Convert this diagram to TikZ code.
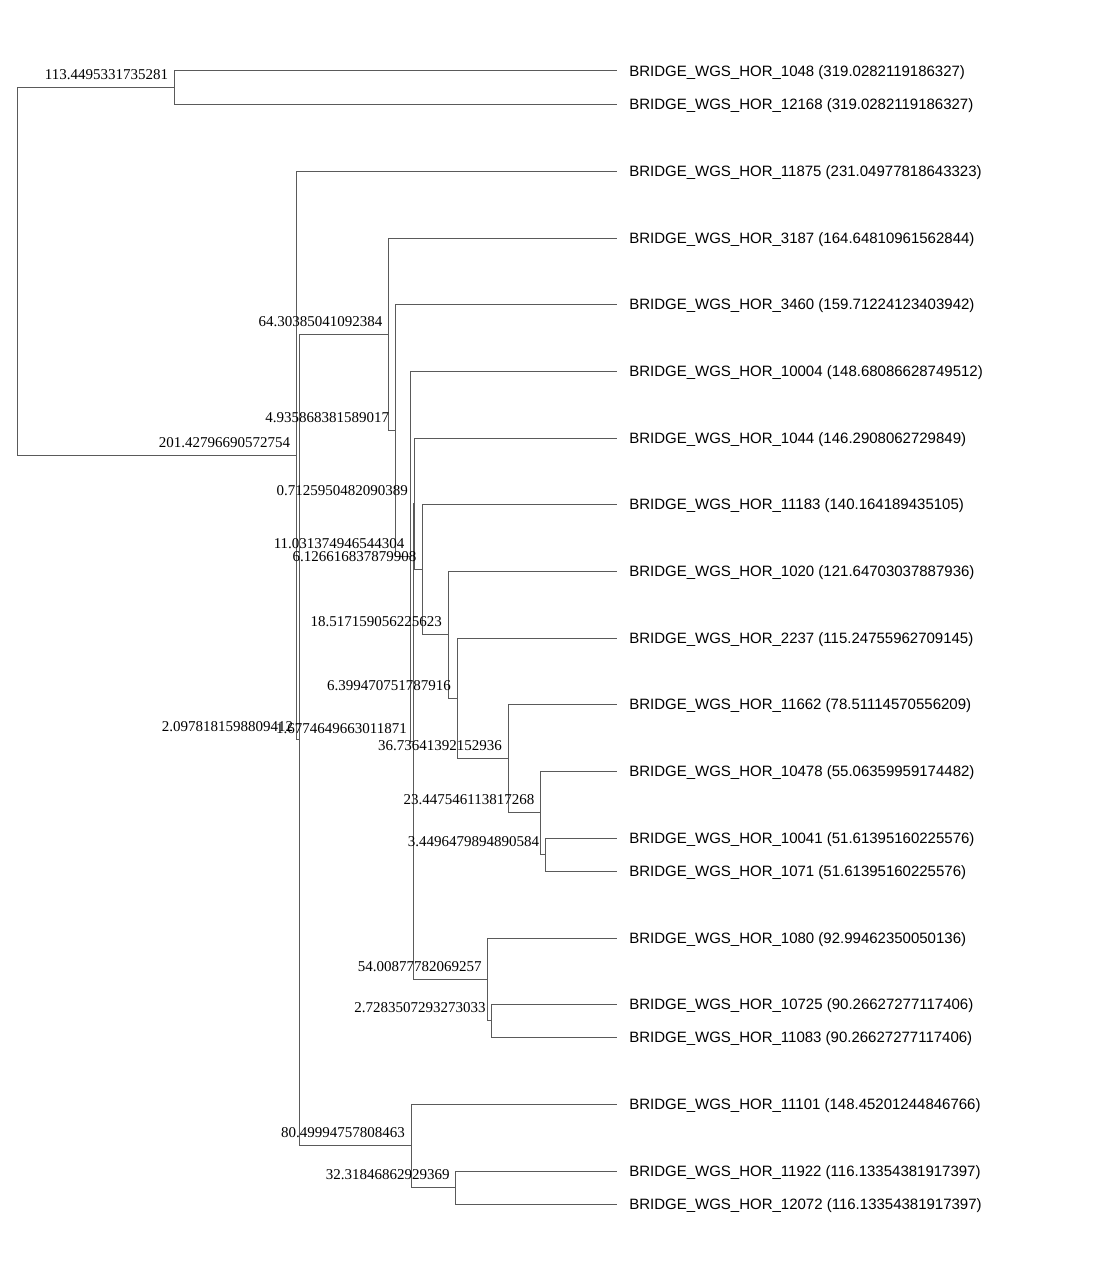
\documentclass[tikz,border=0pt]{standalone}
\usepackage{fontspec}
\setmainfont{Liberation Serif}
\newfontfamily\leaffont{Liberation Sans}
\definecolor{linecol}{RGB}{90,90,90}
\begin{document}
\begin{tikzpicture}[x=0.75pt,y=-0.75pt,
  edge/.style={draw=linecol, line width=0.75pt},
  leafedge/.style={edge, shorten >=9pt},
  leaf/.style={anchor=west, inner sep=0pt, text height=11.2pt, text depth=2.4pt, font=\leaffont\fontsize{11.25}{13}\selectfont},
  blab/.style={anchor=base east, inner sep=0pt, font=\fontsize{11.25}{13}\selectfont},
]
\useasboundingbox (0,0) rectangle (1106,1263);
% internal nodes
\coordinate (root) at (17,271.5);
\coordinate (A) at (174.4,87.5);
\coordinate (B) at (296.45,455.4);
\coordinate (C) at (299.36,739.9);
\coordinate (D) at (388.57,334);
\coordinate (E) at (395.42,430.1);
\coordinate (F) at (410.72,556.2);
\coordinate (G) at (413.05,741.4);
\coordinate (H) at (414.04,503.6);
\coordinate (I) at (422.54,569.3);
\coordinate (J) at (448.23,634.6);
\coordinate (K) at (457.11,698.2);
\coordinate (L) at (508.08,758.4);
\coordinate (M) at (540.61,812.75);
\coordinate (N) at (545.40,854.5);
\coordinate (P) at (487.98,979.25);
\coordinate (Q) at (491.77,1020.5);
\coordinate (R) at (411.04,1145.75);
\coordinate (S) at (455.88,1187.5);
% leaves
\node[leaf] (l1048) at (629,71) {BRIDGE\_WGS\_HOR\_1048 (319.0282119186327)};
\node[leaf] (l12168) at (629,104) {BRIDGE\_WGS\_HOR\_12168 (319.0282119186327)};
\node[leaf] (l11875) at (629,171) {BRIDGE\_WGS\_HOR\_11875 (231.04977818643323)};
\node[leaf] (l3187) at (629,238) {BRIDGE\_WGS\_HOR\_3187 (164.64810961562844)};
\node[leaf] (l3460) at (629,304) {BRIDGE\_WGS\_HOR\_3460 (159.71224123403942)};
\node[leaf] (l10004) at (629,371) {BRIDGE\_WGS\_HOR\_10004 (148.68086628749512)};
\node[leaf] (l1044) at (629,438) {BRIDGE\_WGS\_HOR\_1044 (146.2908062729849)};
\node[leaf] (l11183) at (629,504) {BRIDGE\_WGS\_HOR\_11183 (140.164189435105)};
\node[leaf] (l1020) at (629,571) {BRIDGE\_WGS\_HOR\_1020 (121.64703037887936)};
\node[leaf] (l2237) at (629,638) {BRIDGE\_WGS\_HOR\_2237 (115.24755962709145)};
\node[leaf] (l11662) at (629,704) {BRIDGE\_WGS\_HOR\_11662 (78.51114570556209)};
\node[leaf] (l10478) at (629,771) {BRIDGE\_WGS\_HOR\_10478 (55.06359959174482)};
\node[leaf] (l10041) at (629,838) {BRIDGE\_WGS\_HOR\_10041 (51.61395160225576)};
\node[leaf] (l1071) at (629,871) {BRIDGE\_WGS\_HOR\_1071 (51.61395160225576)};
\node[leaf] (l1080) at (629,938) {BRIDGE\_WGS\_HOR\_1080 (92.99462350050136)};
\node[leaf] (l10725) at (629,1004) {BRIDGE\_WGS\_HOR\_10725 (90.26627277117406)};
\node[leaf] (l11083) at (629,1037) {BRIDGE\_WGS\_HOR\_11083 (90.26627277117406)};
\node[leaf] (l11101) at (629,1104) {BRIDGE\_WGS\_HOR\_11101 (148.45201244846766)};
\node[leaf] (l11922) at (629,1171) {BRIDGE\_WGS\_HOR\_11922 (116.13354381917397)};
\node[leaf] (l12072) at (629,1204) {BRIDGE\_WGS\_HOR\_12072 (116.13354381917397)};
% internal edges
\draw[edge] (root) |- (A);
\draw[edge] (root) |- (B);
\draw[edge] (B) |- (C);
\draw[edge] (C) |- (D);
\draw[edge] (C) |- (R);
\draw[edge] (D) |- (E);
\draw[edge] (E) |- (F);
\draw[edge] (F) |- (G);
\draw[edge] (G) |- (H);
\draw[edge] (G) |- (P);
\draw[edge] (H) |- (I);
\draw[edge] (I) |- (J);
\draw[edge] (J) |- (K);
\draw[edge] (K) |- (L);
\draw[edge] (L) |- (M);
\draw[edge] (M) |- (N);
\draw[edge] (P) |- (Q);
\draw[edge] (R) |- (S);
% leaf edges
\draw[leafedge] (A) |- (l1048.west);
\draw[leafedge] (A) |- (l12168.west);
\draw[leafedge] (B) |- (l11875.west);
\draw[leafedge] (D) |- (l3187.west);
\draw[leafedge] (E) |- (l3460.west);
\draw[leafedge] (F) |- (l10004.west);
\draw[leafedge] (H) |- (l1044.west);
\draw[leafedge] (I) |- (l11183.west);
\draw[leafedge] (J) |- (l1020.west);
\draw[leafedge] (K) |- (l2237.west);
\draw[leafedge] (L) |- (l11662.west);
\draw[leafedge] (M) |- (l10478.west);
\draw[leafedge] (N) |- (l10041.west);
\draw[leafedge] (N) |- (l1071.west);
\draw[leafedge] (P) |- (l1080.west);
\draw[leafedge] (Q) |- (l10725.west);
\draw[leafedge] (Q) |- (l11083.west);
\draw[leafedge] (R) |- (l11101.west);
\draw[leafedge] (S) |- (l11922.west);
\draw[leafedge] (S) |- (l12072.west);
% branch length labels
\path (A) ++(-6,-8) node[blab] (bA) {113.4495331735281};
\path (B) ++(-6,-8) node[blab] (bB) {201.42796690572754};
\path (C) ++(-6,-8) node[blab] (bC) {2.0978181598809412};
\path (D) ++(-6,-8) node[blab] (bD) {64.30385041092384};
\path (E) ++(-6,-8) node[blab] (bE) {4.935868381589017};
\path (F) ++(-6,-8) node[blab] (bF) {11.031374946544304};
\path (G) ++(-6,-8) node[blab] (bG) {1.6774649663011871};
\path (H) ++(-6,-8) node[blab] (bH) {0.7125950482090389};
\path (I) ++(-6,-8) node[blab] (bI) {6.126616837879908};
\path (J) ++(-6,-8) node[blab] (bJ) {18.517159056225623};
\path (K) ++(-6,-8) node[blab] (bK) {6.399470751787916};
\path (L) ++(-6,-8) node[blab] (bL) {36.73641392152936};
\path (M) ++(-6,-8) node[blab] (bM) {23.447546113817268};
\path (N) ++(-6,-8) node[blab] (bN) {3.4496479894890584};
\path (P) ++(-6,-8) node[blab] (bP) {54.00877782069257};
\path (Q) ++(-6,-8) node[blab] (bQ) {2.7283507293273033};
\path (R) ++(-6,-8) node[blab] (bR) {80.49994757808463};
\path (S) ++(-6,-8) node[blab] (bS) {32.31846862929369};
\end{tikzpicture}
\end{document}
